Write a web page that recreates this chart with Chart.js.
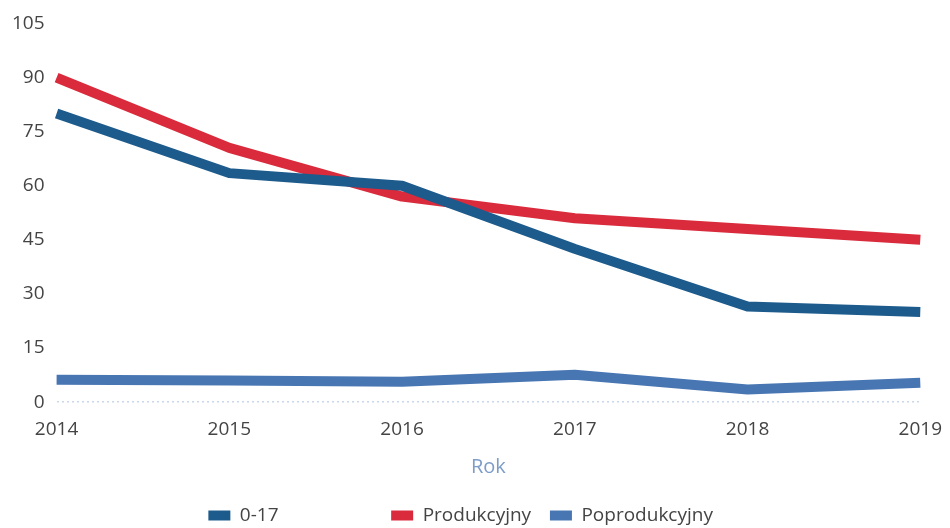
<!DOCTYPE html>
<html>
<head>
<meta charset="utf-8">
<script src="https://cdn.jsdelivr.net/npm/chart.js@4"></script>
<style>
  html, body { margin: 0; padding: 0; background: #fff; }
  #wrap { width: 950px; height: 528px; }
</style>
</head>
<body>
<div id="wrap"><canvas id="chart"></canvas></div>
<script>
// Data
const years = ["2014", "2015", "2016", "2017", "2018", "2019"];
const age0_17 = [80, 63.5, 60, 42.5, 26.5, 25];
const produkcyjny = [90, 70.5, 57, 51, 48, 45];
const poprodukcyjny = [6.2, 6, 5.7, 7.6, 3.5, 5.4];
const yTicks = [0, 15, 30, 45, 60, 75, 90, 105];

const FONT = "'Open Sans', 'Noto Sans', sans-serif";

// extra trailing spaces to reproduce the uneven legend spacing
const legendPad = { "0-17": 22, "Produkcyjny": 3, "Poprodukcyjny": 5 };

new Chart(document.getElementById("chart"), {
  type: "line",
  data: {
    labels: years,
    datasets: [
      { label: "0-17", data: age0_17, borderColor: "#1d5b8c", backgroundColor: "#1d5b8c" },
      { label: "Produkcyjny", data: produkcyjny, borderColor: "#d92b3c", backgroundColor: "#d92b3c" },
      { label: "Poprodukcyjny", data: poprodukcyjny, borderColor: "#4876b3", backgroundColor: "#4876b3" },
    ],
  },
  options: {
    responsive: true,
    maintainAspectRatio: false,
    animation: false,
    elements: {
      line: { borderWidth: 10, tension: 0, borderCapStyle: "butt", borderJoinStyle: "round" },
      point: { radius: 0, hoverRadius: 0 },
    },
    layout: { padding: { top: 8, right: 4, left: 0, bottom: -7 } },
    scales: {
      x: {
        offset: false,
        grid: { display: false },
        border: { display: false },
        ticks: { color: "#444", font: { family: FONT, size: 19 }, padding: 8, maxRotation: 0 },
        title: { display: true, text: "Rok", color: "#7d9dc8", font: { family: FONT, size: 20 }, padding: { top: 6, bottom: 23 } },
      },
      y: {
        min: 0,
        max: 105,
        afterBuildTicks: (axis) => { axis.ticks = yTicks.map((v) => ({ value: v })); },
        grid: {
          drawTicks: false,
          color: (ctx) => (ctx.tick && ctx.tick.value === 0 ? "#c9d8ea" : "rgba(0,0,0,0)"),
          lineWidth: 1.5,
        },
        border: { display: false, dash: [2, 3] },
        ticks: { color: "#444", font: { family: FONT, size: 19 }, padding: 12 },
      },
    },
    plugins: {
      tooltip: { enabled: false },
      legend: {
        position: "bottom",
        labels: {
          color: "#444",
          font: { family: FONT, size: 19 },
          boxWidth: 22,
          boxHeight: 10,
          padding: 4,
          generateLabels: (chart) =>
            Chart.defaults.plugins.legend.labels.generateLabels(chart).map((l) => ({
              ...l,
              lineWidth: 0,
              text: l.text + " ".repeat(legendPad[l.text] || 0),
            })),
        },
      },
    },
  },
});
</script>
</body>
</html>
